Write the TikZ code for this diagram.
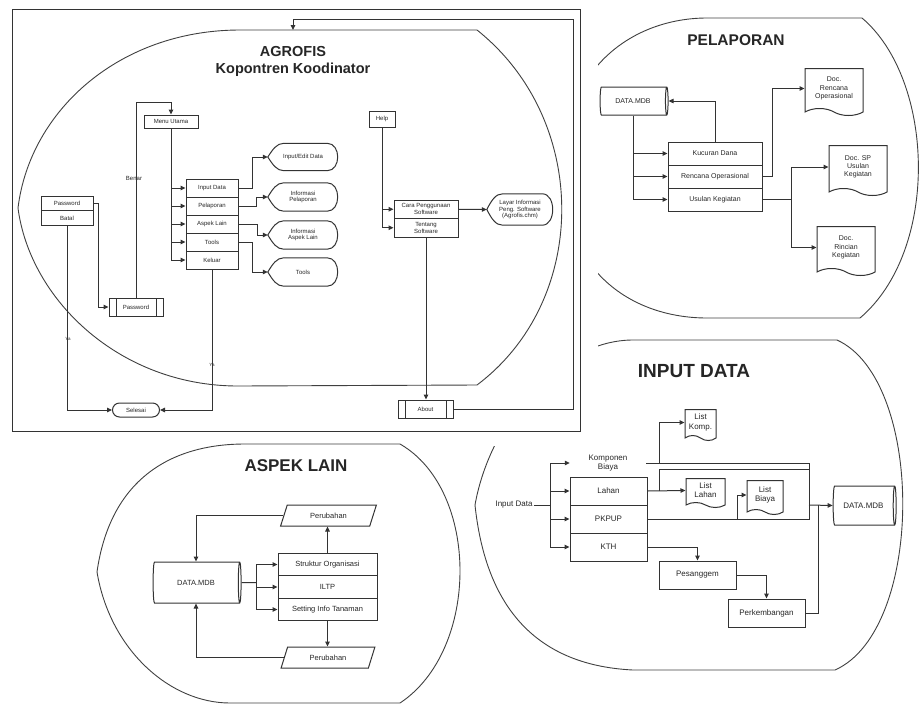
\documentclass[tikz,border=0pt]{standalone}
\usepackage{fontspec}
\setmainfont{Liberation Sans}
\usetikzlibrary{arrows.meta,shapes.geometric,shapes.misc,shapes.symbols}

\tikzset{
  ln/.style={draw=black!80, line width=1pt},
  arr/.style={ln, -{Triangle[length=5pt, width=4.5pt]}},
  rim/.style={draw=black!75, line width=0.9pt},
  box/.style={draw=black!80, line width=1pt, inner sep=0.5pt, align=center},
  predef/.style={box, path picture={
      \draw[black!80, line width=1pt]
        ([xshift=7pt]path picture bounding box.north west) -- ([xshift=7pt]path picture bounding box.south west)
        ([xshift=-7pt]path picture bounding box.north east) -- ([xshift=-7pt]path picture bounding box.south east);}},
  term/.style={box, rounded rectangle},
  db/.style={box, cylinder, aspect=0.45},
  docbox/.style={box, tape, tape bend top=none, tape bend bottom=out and in, tape bend height=7pt},
  io/.style={box, trapezium, trapezium left angle=65, trapezium right angle=115, trapezium stretches=true},
  disp/.style={inner sep=0.5pt, align=center,
    append after command={\pgfextra{\draw[black!80, line width=1pt]
      (\tikzlastnode.west) .. controls ([xshift=5pt, yshift=-6pt]\tikzlastnode.north west) and ([xshift=9pt]\tikzlastnode.north west) .. ([xshift=16pt]\tikzlastnode.north west)
      -- ([xshift=-11pt]\tikzlastnode.north east)
      .. controls ([xshift=3pt]\tikzlastnode.north east) and ([xshift=3pt]\tikzlastnode.south east) .. ([xshift=-11pt]\tikzlastnode.south east)
      -- ([xshift=16pt]\tikzlastnode.south west)
      .. controls ([xshift=9pt]\tikzlastnode.south west) and ([xshift=5pt, yshift=6pt]\tikzlastnode.south west) .. (\tikzlastnode.west) -- cycle;}}},
}

\begin{document}
\begin{tikzpicture}[x=1pt, y=-1pt, text=black!85]
\useasboundingbox (0,0) rectangle (919,705);

% pelaporan and input data outlines (cut by the scanned page)
\draw[rim] (560,170) .. controls (565,60) and (640,18) .. (707,18) -- (862,18)
  .. controls (935,80) and (940,250) .. (860,318) -- (707,318)
  .. controls (640,318) and (565,280) .. (560,170);
\draw[rim] (475,505) .. controls (490,420) and (560,340) .. (633,340) -- (837,340)
  .. controls (925,380) and (925,630) .. (835,670) -- (633,670)
  .. controls (530,665) and (485,600) .. (475,505);
\fill[white] (0,0) rectangle (598,446);

% ---- AGROFIS ----
\draw[ln] (12,9) rectangle (580,431);
\draw[rim] (240,30) -- (477,30) .. controls (590,120) and (590,300) .. (477,385) -- (238,386)
  .. controls (120,386) and (30,300) .. (18,208) .. controls (30,110) and (120,30) .. (240,30);
\node[font=\bfseries\fontsize{14.5}{17}\selectfont] (agt) at (293,52) {AGROFIS};
\node[font=\bfseries\fontsize{14.5}{17}\selectfont] (kpt) at (293,70) {Kopontren Koodinator};

\begin{scope}[font=\fontsize{6}{6.8}\selectfont]
\node[box, minimum width=54pt, minimum height=13pt] (menu) at (171,121.5) {Menu Utama};
\node[box, minimum width=52pt, minimum height=18pt] (idt) at (212,188) {Input Data};
\node[box, minimum width=52pt, minimum height=18pt] (pl) at (212,206) {Pelaporan};
\node[box, minimum width=52pt, minimum height=18pt] (al) at (212,224) {Aspek Lain};
\node[box, minimum width=52pt, minimum height=18pt] (tl) at (212,242) {Tools};
\node[box, minimum width=52pt, minimum height=18pt] (kel) at (212,260) {Keluar};
\node[disp, minimum width=70pt, minimum height=27pt] (ied) at (303,157) {Input/Edit Data};
\node[disp, minimum width=70pt, minimum height=28pt] (ipl) at (303,197) {Informasi\\Pelaporan};
\node[disp, minimum width=70pt, minimum height=28pt] (ial) at (303,235) {Informasi\\Aspek Lain};
\node[disp, minimum width=70pt, minimum height=28pt] (itl) at (303,272) {Tools};
\node[box, minimum width=52pt, minimum height=14.5pt] (pwd) at (67,203.5) {Password};
\node[box, minimum width=52pt, minimum height=14.5pt] (btl) at (67,218) {Batal};
\node[predef, minimum width=54pt, minimum height=18pt] (pw2) at (136,307) {Password};
\node[term, minimum width=48pt, minimum height=14pt] (sel) at (136,410) {Selesai};
\node[box, minimum width=26pt, minimum height=16pt] (help) at (382,119) {Help};
\node[box, minimum width=64pt, minimum height=18.5pt] (cara) at (426,209.25) {Cara Penggunaan\\Software};
\node[box, minimum width=64pt, minimum height=18.5pt] (tent) at (426,227.75) {Tentang\\Software};
\node[disp, minimum width=66pt, minimum height=31pt] (layar) at (520,209.5) {Layar Informasi\\Peng. Software\\(Agrofis.chm)};
\node[predef, minimum width=55pt, minimum height=18pt] (about) at (425.5,409) {About};
\node (benar) at (134,178) {Benar};
\node[font=\fontsize{4.5}{5}\selectfont] (ya1) at (68,339) {Ya};
\node[font=\fontsize{4.5}{5}\selectfont] (ya2) at (212,365) {Ya};
\end{scope}
\coordinate (agtop) at (293,30);

\draw[ln] (menu.south) -- (menu.south |- kel.west);
\draw[arr] (menu.south |- idt.west) -- (idt.west);
\draw[arr] (menu.south |- pl.west) -- (pl.west);
\draw[arr] (menu.south |- al.west) -- (al.west);
\draw[arr] (menu.south |- tl.west) -- (tl.west);
\draw[arr] (menu.south |- kel.west) -- (kel.west);
\draw[arr] (idt.east) -- ++(14,0) |- (ied.west);
\draw[arr] (pl.east) -- ++(18,0) |- (ipl.west);
\draw[arr] (al.east) -- ++(19,0) |- (ial.west);
\draw[arr] (tl.east) -- ++(14,0) |- (itl.west);
\draw[arr] (pwd.east) -- ++(5,0) |- (pw2.west);
\draw[arr] (pw2.north) -- ++(0,-195) -| (menu.north);
\draw[arr] (btl.south) |- (sel.west);
\draw[arr] (kel.south) |- (sel.east);
\draw[ln] (help.south) -- (help.south |- tent.west);
\draw[arr] (help.south |- cara.west) -- (cara.west);
\draw[arr] (help.south |- tent.west) -- (tent.west);
\draw[arr] (cara.east) -- (layar.west);
\draw[arr] (tent.south) -- (tent.south |- about.north);
\draw[arr] (about.east) -| (573,19) -| (agtop);

% ---- PELAPORAN ----
\node[font=\bfseries\fontsize{15.5}{18}\selectfont] (plt) at (736,40) {PELAPORAN};
\begin{scope}[font=\fontsize{7}{8.2}\selectfont]
\node[db, minimum height=68pt, minimum width=28pt] (dm1) at (633,101) {DATA.MDB};
\node[box, minimum width=94pt, minimum height=23pt] (kd) at (715,153.5) {Kucuran Dana};
\node[box, minimum width=94pt, minimum height=23pt] (ro) at (715,176.5) {Rencana Operasional};
\node[box, minimum width=94pt, minimum height=23pt] (uk) at (715,199.5) {Usulan Kegiatan};
\node[docbox, minimum width=58pt, minimum height=47pt] (doc1) at (834,88.5) {Doc.\\Rencana\\Operasional};
\node[docbox, minimum width=58pt, minimum height=50pt] (doc2) at (858,167) {Doc. SP\\Usulan\\Kegiatan};
\node[docbox, minimum width=58pt, minimum height=49pt] (doc3) at (846,247.5) {Doc.\\Rincian\\Kegiatan};
\end{scope}
\draw[ln] (dm1.south) -- (dm1.south |- uk.west);
\draw[arr] (dm1.south |- kd.west) -- (kd.west);
\draw[arr] (dm1.south |- ro.west) -- (ro.west);
\draw[arr] (dm1.south |- uk.west) -- (uk.west);
\draw[arr] (kd.north) |- (dm1.east);
\draw[arr] (ro.east) -- ++(10,0) |- (doc1.west);
\draw[arr] (uk.east) -- ++(29,0) |- (doc2.west);
\draw[arr] (uk.east) -- ++(29,0) |- (doc3.west);

% ---- INPUT DATA ----
\node[font=\bfseries\fontsize{19}{22}\selectfont] (idtt) at (694,371) {INPUT DATA};
\begin{scope}[font=\fontsize{8}{9.2}\selectfont]
\node[inner sep=1pt] (idl) at (514,505) {Input Data};
\node[align=center, minimum width=76pt, inner sep=0pt] (kb) at (608,463) {Komponen\\Biaya};
\node[box, minimum width=77pt, minimum height=28pt] (lahan) at (608.5,491) {Lahan};
\node[box, minimum width=77pt, minimum height=28pt] (pkpup) at (608.5,519) {PKPUP};
\node[box, minimum width=77pt, minimum height=28pt] (kth) at (608.5,547) {KTH};
\node[docbox, minimum width=31pt, minimum height=31pt, tape bend height=5pt] (lk) at (700.5,422.5) {List\\Komp.};
\node[docbox, minimum width=39pt, minimum height=29pt, tape bend height=5pt] (ll) at (705.5,490.5) {List\\Lahan};
\node[docbox, minimum width=36pt, minimum height=34pt, tape bend height=5pt] (lb) at (765,495) {List\\Biaya};
\node[db, minimum height=63pt, minimum width=39pt] (dm2) at (863.5,505.5) {DATA.MDB};
\node[box, minimum width=77pt, minimum height=28pt] (pes) at (697.5,575) {Pesanggem};
\node[box, minimum width=77pt, minimum height=28pt] (prk) at (766.5,613) {Perkembangan};
\end{scope}
\coordinate (ibus) at (550,505);
\coordinate (jn) at (809,505);
\coordinate (jt) at (809,469);
\coordinate (lbf) at (737,519);
\draw[ln] (idl.east) -- (ibus);
\draw[ln] (ibus |- kb.west) -- (ibus |- kth.west);
\draw[arr] (ibus |- kb.west) -- (kb.west);
\draw[arr] (ibus |- lahan.west) -- (lahan.west);
\draw[arr] (ibus |- pkpup.west) -- (pkpup.west);
\draw[arr] (ibus |- kth.west) -- (kth.west);
\draw[ln] (kb.east) -| (jn);
\draw[arr] ([xshift=13pt]kb.east) |- (lk.west);
\draw[arr] (lahan.east) -- (ll.west);
\draw[ln] ([xshift=12pt]lahan.east) |- (jt);
\draw[ln] (pkpup.east) -| (jn);
\draw[arr] (lbf) |- (lb.west);
\draw[arr] (jn) -- (dm2.west);
\draw[arr] (kth.east) -| (pes.north);
\draw[arr] (pes.east) -| (prk.north);
\draw[ln] (prk.east) -| ([xshift=9pt]jn);

% ---- ASPEK LAIN ----
\draw[rim] (97,572) .. controls (110,480) and (170,444) .. (245,444) -- (400,444)
  .. controls (480,490) and (480,650) .. (400,703) -- (230,703)
  .. controls (170,703) and (110,650) .. (97,572);
\node[font=\bfseries\fontsize{17}{20}\selectfont] (alt) at (296,466) {ASPEK LAIN};
\begin{scope}[font=\fontsize{7.5}{8.6}\selectfont]
\node[db, minimum height=88pt, minimum width=41pt] (dm3) at (196,582.5) {DATA.MDB};
\node[box, minimum width=99pt, minimum height=22.5pt] (so) at (327.5,564.5) {Struktur Organisasi};
\node[box, minimum width=99pt, minimum height=22.5pt] (il) at (327.5,587) {ILTP};
\node[box, minimum width=99pt, minimum height=22.5pt] (sit) at (327.5,609.5) {Setting Info Tanaman};
\node[io, minimum width=96pt, minimum height=21pt] (pu1) at (328.5,515.5) {Perubahan};
\node[io, minimum width=94pt, minimum height=21pt] (pu2) at (328,657.5) {Perubahan};
\end{scope}
\coordinate (abus) at (256,582.5);
\draw[ln] (dm3.east) -- (abus);
\draw[ln] (abus |- so.west) -- (abus |- sit.west);
\draw[arr] (abus |- so.west) -- (so.west);
\draw[arr] (abus |- il.west) -- (il.west);
\draw[arr] (abus |- sit.west) -- (sit.west);
\draw[arr] (so.north) -- (so.north |- pu1.south);
\draw[arr] (pu1.west) -| (dm3.north);
\draw[arr] (sit.south) -- (sit.south |- pu2.north);
\draw[arr] (pu2.west) -| (dm3.south);
\end{tikzpicture}
\end{document}
